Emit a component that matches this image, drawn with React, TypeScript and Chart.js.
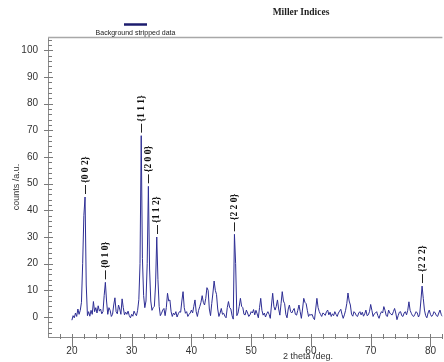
import { useEffect, useRef } from "react";
import { Chart, registerables } from "chart.js";

Chart.register(...registerables);

// 2θ grid: start 20°, step 0.2°
const thetaStart = 20;
const thetaStep = 0.2;

// counts 20.0 – 29.8
const counts20 = [
  -1.2, 0.5, -0.3, 1.5, 0.2, 3.0, 1.0, 2.5, 5.5, 20,
  38, 45, 12, 0.5, 2.0, 0.3, 2.5, 1.0, 5.8, 2.0,
  3.5, 1.5, 4.2, 2.2, 3.0, 1.2, 2.0, 8.0, 13, 6,
  1.0, 3.5, 2.5, 0.2, 1.0, 4.5, 7.2, 2.0, 1.2, 4.5,
  3.0, 1.0, 6.8, 3.5, 0.8, 1.8, 1.0, 2.2, 0.5, -0.3,
];
// counts 30.0 – 39.8
const counts30 = [
  1.0, 0.3, 2.2, 1.2, 0.5, 2.5, 6.5, 20, 68, 22,
  8, 3.5, 6, 20, 49, 18, 6, 2.5, 3.5, 4,
  12, 30, 14, 4, 0.5, 1.4, 2.6, 3.2, 0.5, 3.5,
  8.9, 6.0, 6.4, 2.0, 0.2, 1.5, 0.8, 2.0, 0.0, 1.2,
  2.0, 1.8, 6.0, 9.5, 3.5, 1.4, 2.0, 0.2, 1.0, 1.5,
];
// counts 40.0 – 49.8
const counts40 = [
  2.6, 1.5, 4.0, 6.4, 2.0, 0.2, 2.5, 3.9, 5.5, 8.0,
  5.5, 4.5, 7.0, 11.0, 10.0, 3.0, 0.5, 5.0, 9.0, 13.5,
  10.0, 8.5, 3.0, 0.2, 1.5, 3.2, 1.0, 1.4, 0.3, -0.3,
  3.5, 5.8, 3.5, 3.0, 0.5, -0.8, 31, 20, 0.5, 1.5,
  4.0, 7.0, 4.0, 3.5, 1.0, 0.8, 2.6, 1.5, 0.2, 0.8,
];
// counts 50.0 – 59.8
const counts50 = [
  2.0, 1.5, 2.8, 0.8, 2.5, 1.2, -0.3, 3.5, 7.0, 2.5,
  0.7, 1.5, 0.0, 1.2, 2.0, 1.0, -0.5, 4.5, 8.9, 4.0,
  2.6, 4.0, 6.4, 3.0, 0.7, 5.0, 9.5, 6.0, 5.0, 1.0,
  -0.3, 3.0, 4.5, 2.0, 1.5, 2.5, 3.2, 1.0, 0.7, 2.5,
  4.5, 2.0, -0.5, 3.0, 7.0, 5.5, 5.0, 2.5, 0.2, 1.0,
];
// counts 60.0 – 69.8
const counts60 = [
  0.7, 1.0, -0.3, -1.0, 3.0, 7.0, 3.5, 2.0, 1.0, 0.2,
  1.5, 1.2, 0.6, 2.0, 2.6, 0.8, 1.8, 0.2, 1.2, 0.5,
  2.0, 1.0, 0.2, 1.5, 2.2, 2.9, 1.0, -0.5, 0.8, 2.5,
  5.0, 9.0, 6.0, 4.5, 1.0, 0.3, 2.0, 1.5, 0.5, 0.2,
  1.5, 2.0, 0.8, 1.8, 0.3, 1.2, 2.6, 0.5, 0.8, 2.0,
];
// counts 70.0 – 79.8
const counts70 = [
  4.7, 2.5, 0.2, 1.2, 1.5, 2.0, 0.5, -0.5, 1.0, 2.0,
  1.5, 3.9, 2.5, 0.5, 0.2, 2.6, 1.5, 1.0, 0.8, 2.0,
  3.2, 1.5, -1.0, 0.5, 1.8, 2.0, 0.5, 0.2, 1.5, 2.0,
  0.8, 2.5, 5.7, 2.5, 1.4, 0.5, 0.2, 1.0, 2.0, 1.5,
  0.0, 1.0, 6.0, 11.6, 7.0, 2.6, 0.5, -0.3, 1.5, 2.6,
];
// counts 80.0 – 82.0
const counts80 = [1.0, 0.2, 0.8, 2.0, 1.5, 0.5, 0.2, 1.5, 2.6, 1.0, 0.2];

// Miller index annotations
const peakLabels = ["{0 0 2}", "{0 1 0}", "{1 1 1}", "{2 0 0}", "{1 1 2}", "{2 2 0}", "{2 2 2}"];
const peakTheta = [22.2, 25.6, 31.6, 32.8, 34.2, 47.2, 78.6];
const peakCounts = [45, 13, 68, 49, 30, 31, 11.6];

const xTickValues = [20, 30, 40, 50, 60, 70, 80];
const yTickValues = [0, 10, 20, 30, 40, 50, 60, 70, 80, 90, 100];

const SANS = "'Liberation Sans', Arial, sans-serif";
const SERIF = "'Liberation Serif', 'Times New Roman', serif";

export default function App() {
  const ref = useRef<HTMLCanvasElement | null>(null);

  useEffect(() => {
    if (!ref.current) return;
    const allCounts = [...counts20, ...counts30, ...counts40, ...counts50, ...counts60, ...counts70, ...counts80];
    const points = allCounts.map((c, i) => ({ x: +(thetaStart + i * thetaStep).toFixed(2), y: c }));

    const decor = {
      id: "decor",
      afterDraw(chart: any) {
        const { ctx, chartArea: ca, scales } = chart;
        const xs = scales.x;
        const ys = scales.y;
        ctx.save();
        // axes
        ctx.strokeStyle = "#8c8c8c";
        ctx.lineWidth = 1;
        ctx.beginPath();
        ctx.moveTo(ca.left + 0.5, ca.top);
        ctx.lineTo(ca.left + 0.5, ca.bottom + 1);
        ctx.moveTo(ca.left, ca.bottom + 0.5);
        ctx.lineTo(ca.right, ca.bottom + 0.5);
        ctx.stroke();
        ctx.strokeStyle = "#a8a8a8";
        ctx.lineWidth = 1.5;
        ctx.beginPath();
        ctx.moveTo(ca.left, ca.top + 0.5);
        ctx.lineTo(ca.right, ca.top + 0.5);
        ctx.stroke();
        // y ticks
        ctx.strokeStyle = "#7a7a7a";
        ctx.lineWidth = 1;
        ctx.beginPath();
        for (let v = -6; v <= 104; v += 2) {
          const py = Math.round(ys.getPixelForValue(v)) + 0.5;
          if (v % 10 === 0) {
            ctx.moveTo(ca.left - 4, py);
            ctx.lineTo(ca.left + 5, py);
          } else {
            ctx.moveTo(ca.left, py);
            ctx.lineTo(ca.left + 4, py);
          }
        }
        // x ticks
        for (let v = 18; v <= 82; v += 2) {
          const px = Math.round(xs.getPixelForValue(v)) + 0.5;
          if (v % 10 === 0) {
            ctx.moveTo(px, ca.bottom - 3);
            ctx.lineTo(px, ca.bottom + 10);
          } else {
            ctx.moveTo(px, ca.bottom - 3);
            ctx.lineTo(px, ca.bottom + 2);
          }
        }
        ctx.stroke();

        // axis titles
        ctx.fillStyle = "#333";
        ctx.font = `9px ${SANS}`;
        ctx.textAlign = "center";
        ctx.textBaseline = "middle";
        ctx.fillText("2 theta /deg.", 308, 357);
        ctx.save();
        ctx.translate(17, 187);
        ctx.rotate(-Math.PI / 2);
        ctx.fillText("counts /a.u.", 0, 0);
        ctx.restore();

        // legend
        ctx.strokeStyle = "#1c1c6e";
        ctx.lineWidth = 2.5;
        ctx.beginPath();
        ctx.moveTo(124, 24.5);
        ctx.lineTo(147, 24.5);
        ctx.stroke();
        ctx.fillStyle = "#222";
        ctx.font = `7px ${SANS}`;
        ctx.fillText("Background stripped data", 135.5, 33);
        ctx.font = `bold 9.5px ${SERIF}`;
        ctx.fillText("Miller Indices", 301, 13);

        // peak annotations
        ctx.strokeStyle = "#222";
        ctx.lineWidth = 1;
        ctx.font = `bold 9.5px ${SERIF}`;
        ctx.fillStyle = "#111";
        peakLabels.forEach((lab, i) => {
          const px = xs.getPixelForValue(peakTheta[i]);
          const py = ys.getPixelForValue(peakCounts[i]);
          const lx = Math.round(px) + 0.5;
          ctx.beginPath();
          ctx.moveTo(lx, py - 3);
          ctx.lineTo(lx, py - 12);
          ctx.stroke();
          ctx.save();
          ctx.translate(px, py - 14);
          ctx.rotate(-Math.PI / 2);
          ctx.textAlign = "left";
          ctx.textBaseline = "middle";
          ctx.fillText(lab, 0, 0);
          ctx.restore();
        });
        ctx.restore();
      },
    };

    const chart = new Chart(ref.current, {
      type: "line",
      data: {
        datasets: [
          {
            label: "Background stripped data",
            data: points,
            borderColor: "#2e2e94",
            borderWidth: 1,
            pointRadius: 0,
            tension: 0,
            fill: false,
          },
        ],
      },
      options: {
        animation: false,
        responsive: false,
        devicePixelRatio: 1,
        layout: { padding: { top: 37, right: 0, left: 0, bottom: 0 } },
        plugins: {
          legend: { display: false },
          tooltip: { enabled: false },
          title: { display: false },
        },
        scales: {
          x: {
            type: "linear",
            min: 16,
            max: 82,
            afterBuildTicks: (s: any) => {
              s.ticks = xTickValues.map((v) => ({ value: v }));
            },
            afterFit: (s: any) => {
              s.height = 25;
            },
            grid: { display: false, drawTicks: false },
            border: { display: false },
            ticks: {
              padding: 8,
              color: "#333",
              font: { size: 10, family: SANS },
              maxRotation: 0,
              autoSkip: false,
            },
          },
          y: {
            type: "linear",
            min: -7.5,
            max: 105,
            afterBuildTicks: (s: any) => {
              s.ticks = yTickValues.map((v) => ({ value: v }));
            },
            afterFit: (s: any) => {
              s.width = 48;
            },
            grid: { display: false, drawTicks: false },
            border: { display: false },
            ticks: {
              padding: 10,
              color: "#333",
              font: { size: 10, family: SANS },
              autoSkip: false,
            },
          },
        },
      },
      plugins: [decor],
    } as any);
    return () => chart.destroy();
  }, []);

  return (
    <div style={{ position: "fixed", left: 0, top: 0, width: 444, height: 362, background: "#fff" }}>
      <canvas ref={ref} width={444} height={362} style={{ display: "block", width: 444, height: 362 }} />
    </div>
  );
}
